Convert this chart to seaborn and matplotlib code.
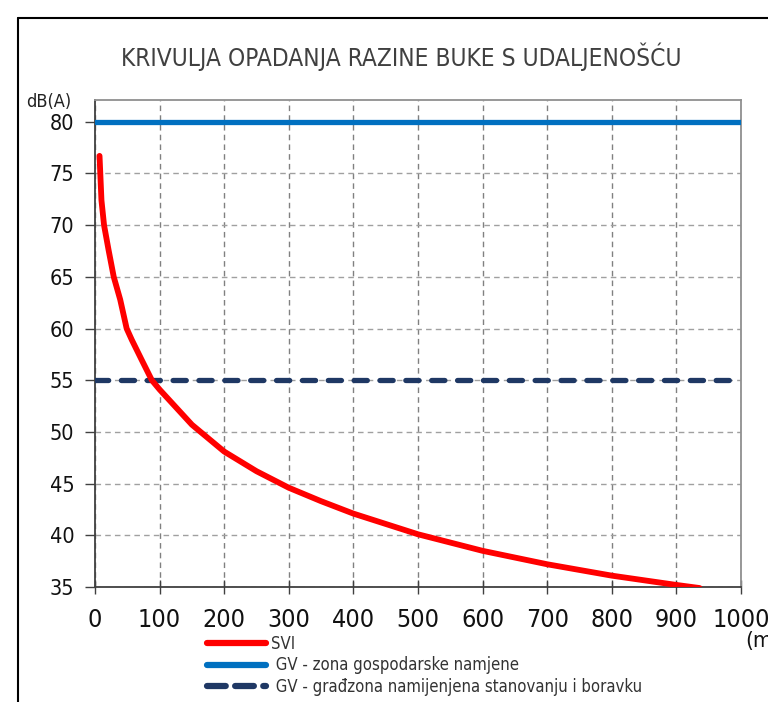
import numpy as np
import matplotlib
matplotlib.use("Agg")
import matplotlib.pyplot as plt
import seaborn as sns
import pandas as pd
from matplotlib.lines import Line2D

# curve
distance_m = [7, 10, 14, 21, 29, 39, 49, 57, 72, 88, 100, 150, 200, 250, 300, 350, 400, 450,
              500, 600, 700, 800, 900, 936]
level_dba = [76.7, 72.4, 70.0, 67.6, 65.0, 62.8, 60.0, 58.9, 57.0, 55.0, 54.1, 50.7, 48.1, 46.2,
             44.6, 43.3, 42.1, 41.1, 40.1, 38.5, 37.2, 36.1, 35.2, 34.9]

limit_x = [0, 1000]
limit_gospodarska = [80, 80]
limit_stanovanje = [55, 55]

x_ticks = list(range(0, 1001, 100))
y_ticks = list(range(35, 81, 5))

labels = ["SVI", " GV - zona gospodarske namjene", " GV - građzona namijenjena stanovanju i boravku"]
red = "#ff0000"
blue = "#0070c0"
navy = "#1f3864"

sns.set_theme(style="white")
plt.rcParams['font.family'] = ['DejaVu Sans']
plt.rcParams['font.stretch'] = 'condensed'

fig = plt.figure(figsize=(7.68, 7.02), dpi=100)
ax = fig.add_axes([0.1237, 0.1638, 0.8411, 0.6937])

curve = pd.DataFrame({"x": distance_m, "y": level_dba})
sns.lineplot(data=curve, x="x", y="y", ax=ax, color=red, linewidth=4.2,
             solid_capstyle="round", solid_joinstyle="round", zorder=4)
sns.lineplot(x=limit_x, y=limit_gospodarska, ax=ax, color=blue, linewidth=3.8, zorder=3)
sns.lineplot(x=limit_x, y=limit_stanovanje, ax=ax, color=navy, linewidth=3.8,
             dashes=False, zorder=3)
ax.lines[-1].set_dashes([2.5, 2.4])
ax.lines[-1].set_dash_capstyle("round")

ax.set_xlim(0, 1000)
ax.set_ylim(35, 82.1)
ax.set_xticks(x_ticks)
ax.set_yticks(y_ticks)
ax.set_xlabel("")
ax.set_ylabel("")
ax.tick_params(axis="x", direction="inout", length=10, width=1, color="#404040",
               labelsize=18, labelcolor="#111111", pad=10, bottom=True)
ax.tick_params(axis="y", direction="out", length=7, width=1, color="#404040",
               labelsize=15.5, labelcolor="#111111", pad=8, left=True)
ax.grid(True, which="major", axis="x", color="#808080", linestyle=(0, (4, 3)), linewidth=1)
ax.grid(True, which="major", axis="y", color="#a0a0a0", linestyle=(0, (4, 3)), linewidth=1)
ax.set_axisbelow(True)
for side in ["left", "bottom"]:
    ax.spines[side].set_color("#404040")
    ax.spines[side].set_linewidth(1.3)
for side in ["top", "right"]:
    ax.spines[side].set_color("#909090")
    ax.spines[side].set_linewidth(1.3)

fig.text(0.522, 0.919, "KRIVULJA OPADANJA RAZINE BUKE S UDALJENOŠĆU",
         ha="center", va="center", fontsize=17.6, color="#404040")
fig.text(0.064, 0.842, "dB(A)", ha="center", va="bottom", fontsize=13, color="#222222")
fig.text(0.970, 0.087, "(m)", ha="left", va="center", fontsize=16, color="#111111")

handles = [
    Line2D([0], [0], color=red, linewidth=4.5, solid_capstyle="round"),
    Line2D([0], [0], color=blue, linewidth=4.5, solid_capstyle="round"),
    Line2D([0], [0], color=navy, linewidth=4.5, dashes=[3, 1.5], dash_capstyle="round"),
]
fig.legend(handles, labels, loc="upper left", bbox_to_anchor=(0.259, 0.107),
           frameon=False, fontsize=12, handlelength=3.5, handletextpad=0.3,
           labelspacing=0.19, borderpad=0, labelcolor="#333333")

# outer frame of the original document
fig.add_artist(Line2D([0.0234, 0.0234], [0, 0.974], color="black", linewidth=1.5,
                      transform=fig.transFigure))
fig.add_artist(Line2D([0.0234, 1.0], [0.974, 0.974], color="black", linewidth=1.5,
                      transform=fig.transFigure))

fig.savefig("out.png", dpi=100)
